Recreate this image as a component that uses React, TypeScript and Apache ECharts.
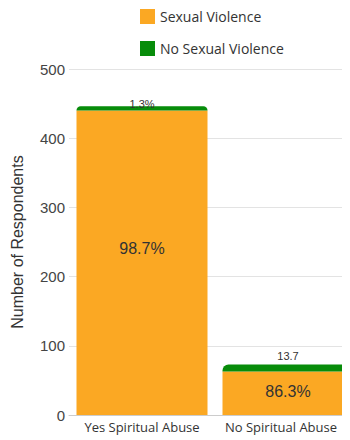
import React, { useEffect, useRef } from "react";
import * as echarts from "echarts";

const categories = ["Yes Spiritual Abuse", "No Spiritual Abuse"];
const sexualViolence = [440, 63];
const noSexualViolence = [6, 10];
const svLabels = ["98.7%", "86.3%"];
const noSvLabels = ["1.3%", "13.7"];
const yTicks = [0, 100, 200, 300, 400, 500];

const ORANGE = "#FBA823";
const GREEN = "#078C0A";

export default function App() {
  const ref = useRef<HTMLDivElement>(null);

  useEffect(() => {
    if (!ref.current) return;
    const chart = echarts.init(ref.current, undefined, { renderer: "svg" });
    chart.setOption({
      animation: false,
      legend: {
        orient: "vertical",
        left: 140,
        top: 9,
        padding: 0,
        itemWidth: 15,
        itemHeight: 15,
        itemGap: 17,
        icon: "rect",
        textStyle: { fontFamily: "Open Sans", fontSize: 14, color: "#333" },
        data: ["Sexual Violence", "No Sexual Violence"],
      },
      // the plot runs a little past the right edge, so the second bar meets it
      grid: { left: 69, width: 292, top: 69, bottom: 25, outerBoundsMode: "none" },
      xAxis: {
        type: "category",
        data: categories,
        axisTick: { show: false },
        axisLine: { lineStyle: { color: "#ccc" } },
        axisLabel: {
          fontFamily: "Open Sans",
          fontSize: 13,
          color: "#333",
          margin: 5,
          interval: 0,
          // the last label is nudged left to stay inside the page
          formatter: (v: string, i: number) =>
            i === categories.length - 1 ? `{edge|${v}}` : v,
          rich: {
            edge: {
              fontFamily: "Open Sans",
              fontSize: 13,
              color: "#333",
              padding: [0, 14, 0, 0],
            },
          },
        },
      },
      yAxis: {
        type: "value",
        min: yTicks[0],
        max: yTicks[yTicks.length - 1],
        interval: 100,
        name: "Number of Respondents",
        nameLocation: "middle",
        nameGap: 44,
        nameTextStyle: { fontFamily: "Liberation Sans", fontSize: 16, color: "#333" },
        axisLabel: { fontFamily: "Liberation Sans", fontSize: 15, color: "#444", margin: 4 },
        splitLine: { lineStyle: { color: "#e3e3e3" } },
      },
      series: [
        {
          name: "Sexual Violence",
          type: "bar",
          stack: "total",
          barWidth: 131,
          itemStyle: { color: ORANGE },
          label: {
            show: true,
            position: "inside",
            fontFamily: "Liberation Sans",
            fontSize: 16,
            color: "#333",
            formatter: (p: any) => svLabels[p.dataIndex],
          },
          data: sexualViolence.map((v, i) => ({
            value: v,
            label: i === 0 ? { offset: [0, -14] } : { offset: [0, -2] },
          })),
        },
        {
          name: "No Sexual Violence",
          type: "bar",
          stack: "total",
          barWidth: 131,
          itemStyle: { color: GREEN, borderRadius: [6, 6, 0, 0] },
          label: {
            show: true,
            position: "top",
            fontFamily: "Liberation Sans",
            fontSize: 11,
            color: "#333",
            formatter: (p: any) => noSvLabels[p.dataIndex],
          },
          data: noSexualViolence.map((v, i) => ({
            value: v,
            label: i === 0 ? { distance: -3 } : { distance: 3 },
          })),
        },
      ],
    });
    return () => chart.dispose();
  }, []);

  return <div ref={ref} style={{ width: 350, height: 440, marginLeft: -8, marginTop: -8 }} />;
}
